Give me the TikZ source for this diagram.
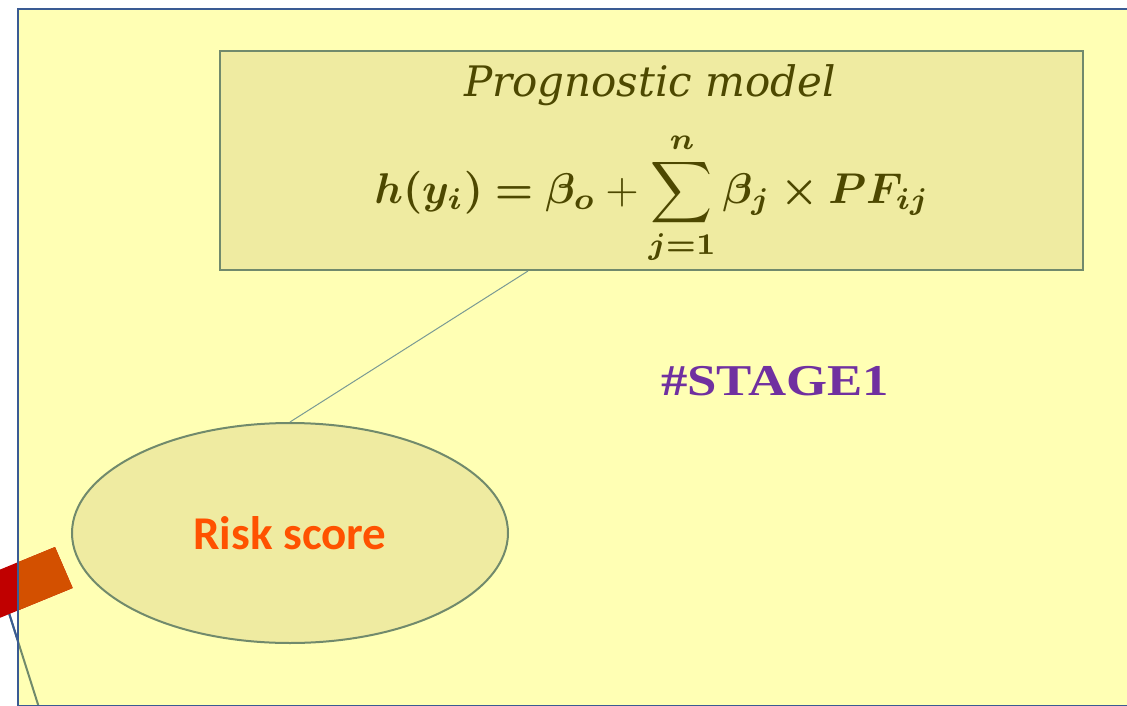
\RequirePackage{fix-cm}
\documentclass[tikz,border=0pt]{standalone}
\usepackage{amsmath,bm}
\usepackage[no-math]{fontspec}
\usetikzlibrary{shapes.geometric}
\newfontfamily\labelfont{Carlito}
\newfontfamily\headfont{DejaVu Serif}
\newfontfamily\stagefont{Liberation Serif}

\definecolor{pagebg}{HTML}{FFFFB4}
\definecolor{boxfill}{HTML}{EFEBA1}
\definecolor{boxedge}{HTML}{718A6C}
\definecolor{frameblue}{HTML}{3A5B93}
\definecolor{olivetext}{HTML}{4D4800}
\definecolor{stagepurple}{HTML}{7030A0}
\definecolor{riskorange}{HTML}{FF5200}
\definecolor{barred}{HTML}{C00000}
\definecolor{barorange}{HTML}{D35000}
\definecolor{linkgray}{HTML}{7A9A94}

\tikzset{
  modelbox/.style={draw=boxedge, line width=2pt, fill=boxfill, rectangle, inner sep=0pt},
  riskellipse/.style={draw=boxedge, line width=2pt, fill=boxfill, ellipse, inner sep=0pt,
    font=\labelfont\bfseries\fontsize{47}{52}\selectfont, text=riskorange},
  link/.style={draw=linkgray, line width=1pt},
  tail/.style={line width=2pt},
}

\begin{document}
\begin{tikzpicture}[x=1pt,y=-1pt]
\useasboundingbox (0,0) rectangle (1127,706);
\fill[white] (0,0) rectangle (1127,706);
\fill[pagebg] (18,9) rectangle (1140,705.5);

% slanted stroke at the lower left
\draw[tail, boxedge] (9,613) -- (38.5,706);
\begin{scope}
  \clip (0,0) rectangle (18,706);
  \draw[tail, frameblue] (9,613) -- (38.5,706);
\end{scope}

% rotated bar, red outside the frame and orange inside
\fill[barred] (55,547) -- (72.7,588) -- (-20,626) -- (-37.5,585) -- cycle;
\begin{scope}
  \clip (18,0) rectangle (200,706);
  \fill[barorange] (55,547) -- (72.7,588) -- (-20,626) -- (-37.5,585) -- cycle;
\end{scope}

% frame
\draw[frameblue, line width=2pt] (1140,9) -- (18,9) -- (18,705.5) -- (1140,705.5);

% model box and risk ellipse
\node[modelbox, minimum width=863pt, minimum height=219pt] (model) at (651.5,160.5) {};
\node[riskellipse, minimum width=436pt, minimum height=220pt] (risk) at (290,533) {Risk score};
\draw[link] (risk.north) -- ([xshift=-123.5pt]model.south);

% texts in the model box
\node[anchor=base, text=olivetext, font=\headfont\itshape\fontsize{42}{50}\selectfont, inner sep=0pt]
  (title) at (650,97) {Prognostic model};
\node[anchor=base, text=olivetext, inner sep=0pt, font=\fontsize{10}{12}\selectfont]
  (formula) at (652,203)
  {\scalebox{4.3}{$\displaystyle \bm{h(y_i) = \beta_o} + \sum_{\bm{j=1}}^{\bm{n}} \bm{\beta_j \times PF_{ij}}$}};

% stage label
\node[anchor=base west, text=stagepurple, inner sep=0pt, font=\stagefont\bfseries\fontsize{44}{50}\selectfont]
  (stage) at (661,395) {\scalebox{1.2}[1]{\#STAGE1}};
\end{tikzpicture}
\end{document}
